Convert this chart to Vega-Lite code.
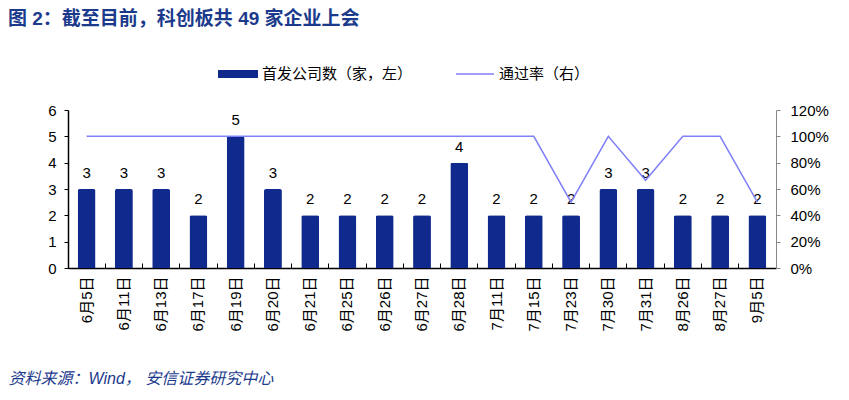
{
  "$schema": "https://vega.github.io/schema/vega-lite/v6.json",
  "autosize": {"type": "none"},
  "width": 708,
  "height": 158,
  "padding": {"left": 68, "top": 110, "right": 73, "bottom": 132},
  "title": {
    "text": "图 2：截至目前，科创板共 49 家企业上会",
    "anchor": "start",
    "frame": "group",
    "dx": -60,
    "offset": 25,
    "fontSize": 19,
    "fontWeight": "bold",
    "color": "#1B3A8C"
  },
  "config": {
    "font": "Liberation Sans, Noto Sans CJK SC",
    "view": {"stroke": null}
  },
  "data": {
    "values": [
      {"date": "6月5日", "count": 3, "rate": 1},
      {"date": "6月11日", "count": 3, "rate": 1},
      {"date": "6月13日", "count": 3, "rate": 1},
      {"date": "6月17日", "count": 2, "rate": 1},
      {"date": "6月19日", "count": 5, "rate": 1},
      {"date": "6月20日", "count": 3, "rate": 1},
      {"date": "6月21日", "count": 2, "rate": 1},
      {"date": "6月25日", "count": 2, "rate": 1},
      {"date": "6月26日", "count": 2, "rate": 1},
      {"date": "6月27日", "count": 2, "rate": 1},
      {"date": "6月28日", "count": 4, "rate": 1},
      {"date": "7月11日", "count": 2, "rate": 1},
      {"date": "7月15日", "count": 2, "rate": 1},
      {"date": "7月23日", "count": 2, "rate": 0.5},
      {"date": "7月30日", "count": 3, "rate": 1},
      {"date": "7月31日", "count": 3, "rate": 0.6667},
      {"date": "8月26日", "count": 2, "rate": 1},
      {"date": "8月27日", "count": 2, "rate": 1},
      {"date": "9月5日", "count": 2, "rate": 0.5}
    ]
  },
  "encoding": {
    "x": {
      "field": "date",
      "type": "nominal",
      "sort": null,
      "scale": {"paddingInner": 0, "paddingOuter": 0},
      "axis": {
        "title": "资料来源：Wind， 安信证券研究中心",
        "titleAnchor": "start",
        "titleAlign": "left",
        "titleBaseline": "alphabetic",
        "titleX": -60,
        "titleY": 115,
        "titleFontSize": 16,
        "titleFontStyle": "italic",
        "titleFontWeight": "normal",
        "titleColor": "#1B3A8C",
        "labelAngle": 270,
        "labelFontSize": 15,
        "labelColor": "#000000",
        "labelPadding": 13,
        "bandPosition": 0,
        "tickSize": -5,
        "tickColor": "#000000",
        "domainColor": "#000000",
        "domainWidth": 1.5
      }
    }
  },
  "layer": [
    {
      "encoding": {
        "y": {
          "field": "count",
          "type": "quantitative",
          "scale": {"domain": [0, 6]},
          "axis": {
            "title": null,
            "values": [0, 1, 2, 3, 4, 5, 6],
            "labelOverlap": false,
            "grid": false,
            "labelFontSize": 15,
            "labelColor": "#000000",
            "labelPadding": 8,
            "tickSize": 4,
            "tickColor": "#000000",
            "domainColor": "#000000",
            "domainWidth": 1.5
          }
        }
      },
      "layer": [
        {
          "mark": {"type": "bar", "width": {"band": 0.48}, "cornerRadiusTopLeft": 2, "cornerRadiusTopRight": 2},
          "encoding": {
            "fill": {
              "datum": "首发公司数（家，左）",
              "type": "nominal",
              "scale": {"range": ["#10298D"]},
              "legend": {
                "orient": "none",
                "legendX": 150,
                "legendY": -56,
                "title": null,
                "symbolType": "M-1,-0.2H1V0.2H-1Z",
                "symbolSize": 1600,
                "symbolStrokeWidth": 0,
                "labelFontSize": 15,
                "labelColor": "#000000"
              }
            }
          }
        },
        {
          "mark": {"type": "text", "dy": -16, "fontSize": 15, "color": "#000000"},
          "encoding": {
            "text": {"field": "count", "type": "quantitative"}
          }
        }
      ]
    },
    {
      "mark": {"type": "line", "strokeWidth": 1.5},
      "encoding": {
        "y": {
          "field": "rate",
          "type": "quantitative",
          "scale": {"domain": [0, 1.2]},
          "axis": {
            "orient": "right",
            "title": null,
            "format": ".0%",
            "values": [0, 0.2, 0.4, 0.6, 0.8, 1, 1.2],
            "labelOverlap": false,
            "grid": false,
            "labelFontSize": 15,
            "labelColor": "#000000",
            "labelPadding": 10,
            "tickSize": 4,
            "tickColor": "#888888",
            "domainColor": "#888888"
          }
        },
        "stroke": {
          "datum": "通过率（右）",
          "type": "nominal",
          "scale": {"range": ["#8080F8"]},
          "legend": {
            "orient": "none",
            "legendX": 387,
            "legendY": -56,
            "title": null,
            "symbolType": "stroke",
            "symbolSize": 1444,
            "symbolStrokeWidth": 1.5,
            "labelFontSize": 15,
            "labelColor": "#000000"
          }
        }
      }
    }
  ],
  "resolve": {"scale": {"y": "independent"}}
}
